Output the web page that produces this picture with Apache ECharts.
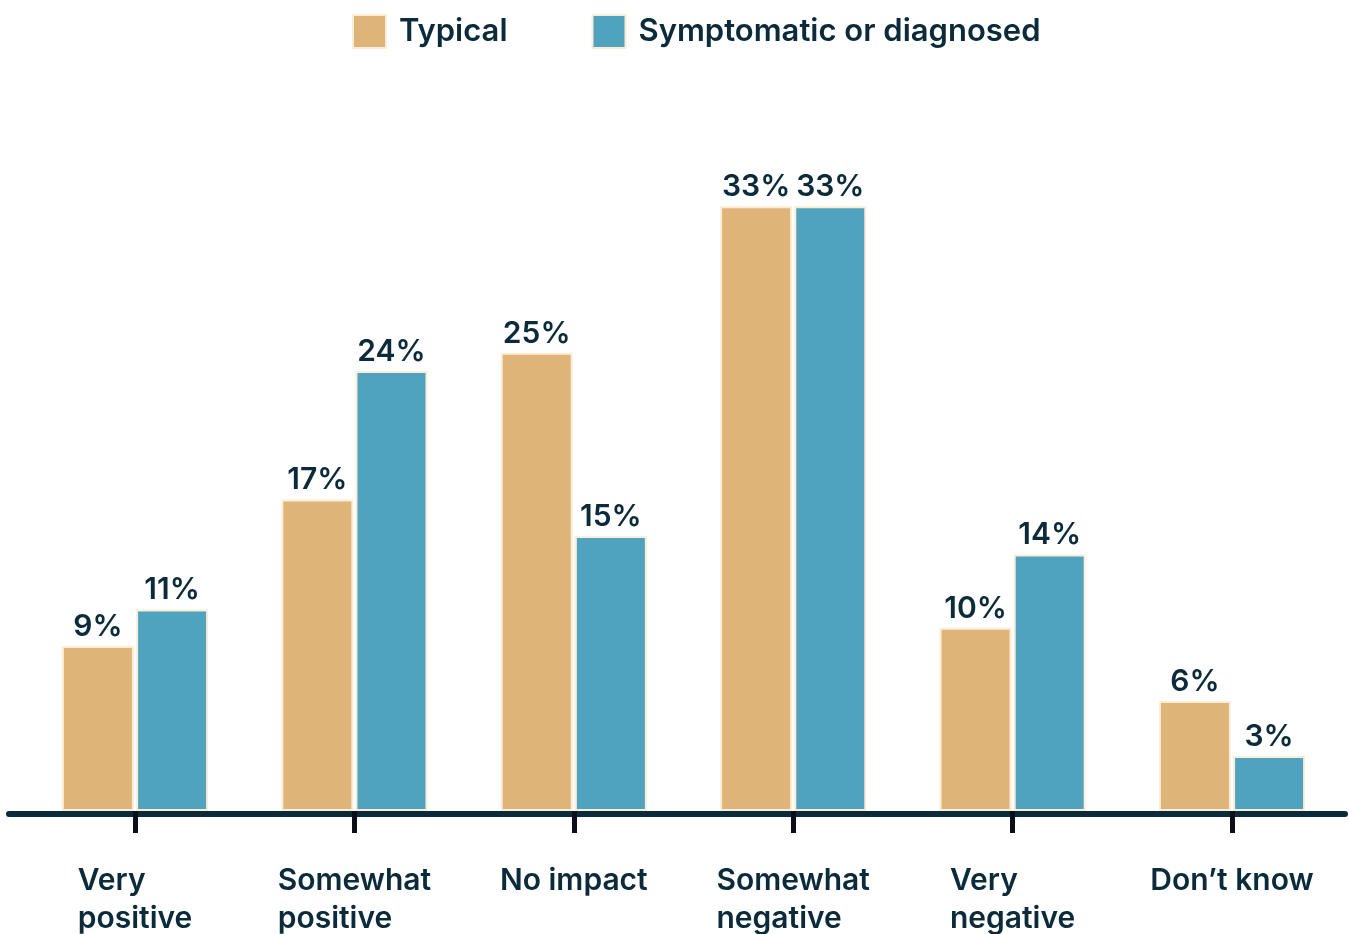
<!DOCTYPE html>
<html>
<head>
<meta charset="utf-8">
<script src="https://cdn.jsdelivr.net/npm/echarts@6/dist/echarts.min.js"></script>
<style>
  html, body { margin: 0; padding: 0; background: #ffffff; }
  #chart { width: 1349px; height: 934px; }
</style>
</head>
<body>
<div id="chart"></div>
<script>
// data
const categories = ['Very\npositive', 'Somewhat\npositive', 'No impact', 'Somewhat\nnegative', 'Very\nnegative', 'Don\u2019t know']
const typical = [9, 17, 25, 33, 10, 6]
const symptomatic = [11, 24, 15, 33, 14, 3]
const seriesNames = ['Typical', 'Symptomatic or diagnosed']

const textColor = '#0b2b3a'
const tanColor = '#dfb479'
const tealColor = '#50a3be'
const creamBorder = '#fcedd8'
const fontFamily = 'Inter, "Noto Sans", sans-serif'

const chart = echarts.init(document.getElementById('chart'), null, { renderer: 'canvas' })

const gridTop = 169.5
const gridBottom = 123

function barSeries(name, data, color) {
    return {
        name: name,
        type: 'bar',
        xAxisIndex: 0,
        yAxisIndex: 0,
        data: data,
        barWidth: 72,
        barGap: '3%',
        itemStyle: {
            color: color,
            borderColor: creamBorder,
            borderWidth: 2,
        },
        label: {
            show: true,
            position: 'top',
            distance: 4,
            formatter: (p) => p.value + '%',
            color: textColor,
            fontFamily: fontFamily,
            fontSize: 30,
            fontWeight: 600,
        },
    }
}

const options = {
    animation: false,
    legend: {
        left: 347,
        top: 9,
        itemWidth: 33,
        itemHeight: 33,
        itemGap: 84,
        icon: 'rect',
        itemStyle: {
            borderColor: creamBorder,
            borderWidth: 2,
        },
        textStyle: {
            color: textColor,
            fontFamily: fontFamily,
            fontSize: 31,
            fontWeight: 600,
            padding: [0, 0, 0, 8],
        },
        data: seriesNames,
    },
    grid: [
        { left: 25.3, right: 7.3, top: gridTop, bottom: gridBottom, containLabel: false },
        // wider grid only for the baseline, which runs past the outer categories
        { left: 9, right: 4, top: gridTop, bottom: gridBottom, containLabel: false },
    ],
    xAxis: [
        {
            type: 'category',
            gridIndex: 0,
            data: categories,
            offset: 3,
            axisLine: { show: false },
            axisTick: {
                show: true,
                alignWithLabel: true,
                length: 22,
                lineStyle: { color: '#0a0f1a', width: 5 },
            },
            axisLabel: {
                margin: 48,
                interval: 0,
                formatter: (v) => '{l|' + v.split('\n').join('}\n{l|') + '}',
                rich: {
                    l: {
                        align: 'left',
                        color: textColor,
                        fontFamily: fontFamily,
                        fontSize: 30,
                        fontWeight: 600,
                        lineHeight: 38,
                    },
                },
            },
        },
        {
            type: 'value',
            gridIndex: 1,
            min: 0,
            max: 1,
            offset: 3,
            axisLine: { show: true, onZero: false, lineStyle: { color: textColor, width: 6 } },
            axisTick: { show: false },
            axisLabel: { show: false },
            splitLine: { show: false },
        },
    ],
    yAxis: [
        {
            type: 'value',
            gridIndex: 0,
            min: 0,
            max: 35,
            show: false,
        },
        {
            type: 'value',
            gridIndex: 1,
            min: 0,
            max: 1,
            show: false,
        },
    ],
    series: [
        barSeries(seriesNames[0], typical, tanColor),
        barSeries(seriesNames[1], symptomatic, tealColor),
    ],
}

chart.setOption(options)
</script>
</body>
</html>
